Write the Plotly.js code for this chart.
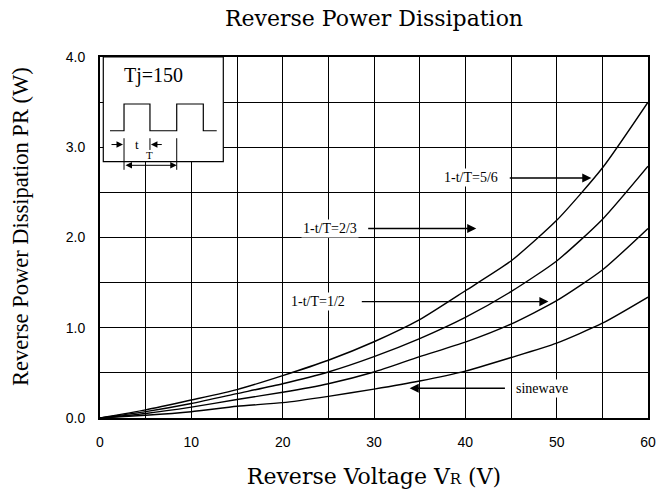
<!DOCTYPE html>
<html>
<head>
<meta charset="utf-8">
<script src="https://cdn.plot.ly/plotly-3.0.1.min.js"></script>
<style>html,body{margin:0;padding:0;background:#fff;}#chart{width:659px;height:494px;}</style>
</head>
<body>
<div id="chart"></div>
<script>
// Reverse voltage (V)
const voltage = [0, 5, 10, 15, 20, 25, 30, 35, 40, 45, 50, 55, 60];
// Reverse power dissipation (W) per duty condition
const duty56 = [0, 0.09, 0.20, 0.315, 0.47, 0.64, 0.845, 1.09, 1.41, 1.74, 2.19, 2.77, 3.50];
const duty23 = [0, 0.07, 0.16, 0.27, 0.38, 0.51, 0.68, 0.88, 1.115, 1.40, 1.74, 2.20, 2.79];
const duty12 = [0, 0.05, 0.12, 0.205, 0.285, 0.38, 0.51, 0.68, 0.84, 1.04, 1.30, 1.64, 2.10];
const sinewave = [0, 0.03, 0.07, 0.13, 0.17, 0.24, 0.32, 0.41, 0.52, 0.67, 0.83, 1.05, 1.34];
const seriesNames = ['1-t/T=5/6', '1-t/T=2/3', '1-t/T=1/2', 'sinewave'];
const xTicks = [0, 10, 20, 30, 40, 50, 60];
const yTicks = [0, 1, 2, 3, 4];

const serif = 'Liberation Serif, Times New Roman, serif';
const wideSerif = 'DejaVu Serif, serif';
const sans = 'Liberation Sans, Arial, sans-serif';

const traces = [duty56, duty23, duty12, sinewave].map((ys, i) => ({
  x: voltage, y: ys, type: 'scatter', mode: 'lines', name: seriesNames[i],
  line: {color: 'black', width: 1.4, shape: 'spline', smoothing: 0.6},
  hoverinfo: 'skip'
}));

function axisCommon() {
  return {
    showgrid: true, gridcolor: 'black', gridwidth: 1,
    showline: true, linecolor: 'black', linewidth: 2, mirror: true,
    zeroline: false, ticks: '', ticklabelstandoff: 10,
    tickfont: {family: sans, size: 14, color: 'black'}
  };
}

const xaxis = Object.assign(axisCommon(), {
  range: [0, 60], tickmode: 'array', tickvals: xTicks, ticktext: xTicks.map(String),
  minor: {dtick: 5, tick0: 0, showgrid: true, gridcolor: 'black', gridwidth: 1},
  title: {text: "Reverse Voltage V<span style='font-size:15px'>R</span> (V)", font: {family: wideSerif, size: 22, color: 'black'}, standoff: 20}
});
const yaxis = Object.assign(axisCommon(), {
  range: [0, 4], tickmode: 'array', tickvals: yTicks, ticktext: yTicks.map(v => v.toFixed(1)),
  minor: {dtick: 0.5, tick0: 0, showgrid: true, gridcolor: 'black', gridwidth: 1}
});

const shapes = [
  {type: 'rect', xref: 'x', yref: 'y', x0: 0.36, x1: 13.5, y0: 2.84, y1: 4.0, fillcolor: 'white', line: {color: 'black', width: 1.2}, layer: 'above'},
  {type: 'path', xref: 'x', yref: 'y', path: 'M1.095,3.183 L2.63,3.183 L2.63,3.479 L5.47,3.479 L5.47,3.183 L8.40,3.183 L8.40,3.479 L11.31,3.479 L11.31,3.183 L12.78,3.183', line: {color: 'black', width: 1.2}, layer: 'above'},
  {type: 'line', xref: 'x', yref: 'y', x0: 2.63, x1: 2.63, y0: 3.10, y1: 2.75, line: {color: 'black', width: 1}, layer: 'above'},
  {type: 'line', xref: 'x', yref: 'y', x0: 8.40, x1: 8.40, y0: 3.10, y1: 2.75, line: {color: 'black', width: 1}, layer: 'above'},
  {type: 'line', xref: 'x', yref: 'y', x0: 5.47, x1: 5.47, y0: 3.10, y1: 2.97, line: {color: 'black', width: 1}, layer: 'above'}
];

function arrow(x0, x1, y, w) {
  return {x: x1, y: y, ax: x0, ay: y, xref: 'x', yref: 'y', axref: 'x', ayref: 'y',
    text: '', showarrow: true, arrowhead: 2, arrowsize: 1.3, arrowwidth: w || 1.4, arrowcolor: 'black', standoff: 0, startstandoff: 0};
}
function label(x, y, t, size, bg) {
  return {x: x, y: y, xref: 'x', yref: 'y', text: t, showarrow: false,
    font: {family: serif, size: size, color: 'black'}, bgcolor: bg ? 'white' : 'rgba(0,0,0,0)', borderpad: 1};
}

const annotations = [
  label(40.6, 2.66, seriesNames[0], 14, true), arrow(44.7, 53.8, 2.66),
  label(25.2, 2.10, seriesNames[1], 14, true), arrow(29.2, 41.2, 2.10),
  label(23.9, 1.29, seriesNames[2], 14, true), arrow(28.5, 49.1, 1.29),
  label(48.4, 0.33, seriesNames[3], 14, true), arrow(44.5, 33.9, 0.33),
  label(5.84, 3.80, 'Tj=150', 20, false),
  label(4.0, 3.03, 't', 13, false),
  label(5.47, 2.91, 'T', 11, false),
  arrow(1.095, 2.52, 3.03, 1),
  arrow(6.93, 5.58, 3.03, 1),
  Object.assign(arrow(2.63, 8.40, 2.80, 1), {arrowside: 'end+start', startarrowhead: 2, startarrowsize: 1.3}),
  // y axis title
  {xref: 'paper', yref: 'paper', x: -0.1442, y: 0.5319, xanchor: 'center', yanchor: 'middle', textangle: -90,
    text: 'Reverse Power Dissipation PR (W)', showarrow: false, font: {family: serif, size: 22.5, color: 'black'}}
];

const layout = {
  width: 659, height: 494,
  margin: {l: 100, r: 11, t: 57, b: 76},
  paper_bgcolor: 'white', plot_bgcolor: 'white',
  showlegend: false,
  title: {text: 'Reverse Power Dissipation', font: {family: wideSerif, size: 22, color: 'black'}, x: 0.5675, xanchor: 'center', y: 0.963, yanchor: 'middle'},
  xaxis: xaxis, yaxis: yaxis,
  shapes: shapes, annotations: annotations
};

Plotly.newPlot('chart', traces, layout, {staticPlot: true, displayModeBar: false});
</script>
</body>
</html>
